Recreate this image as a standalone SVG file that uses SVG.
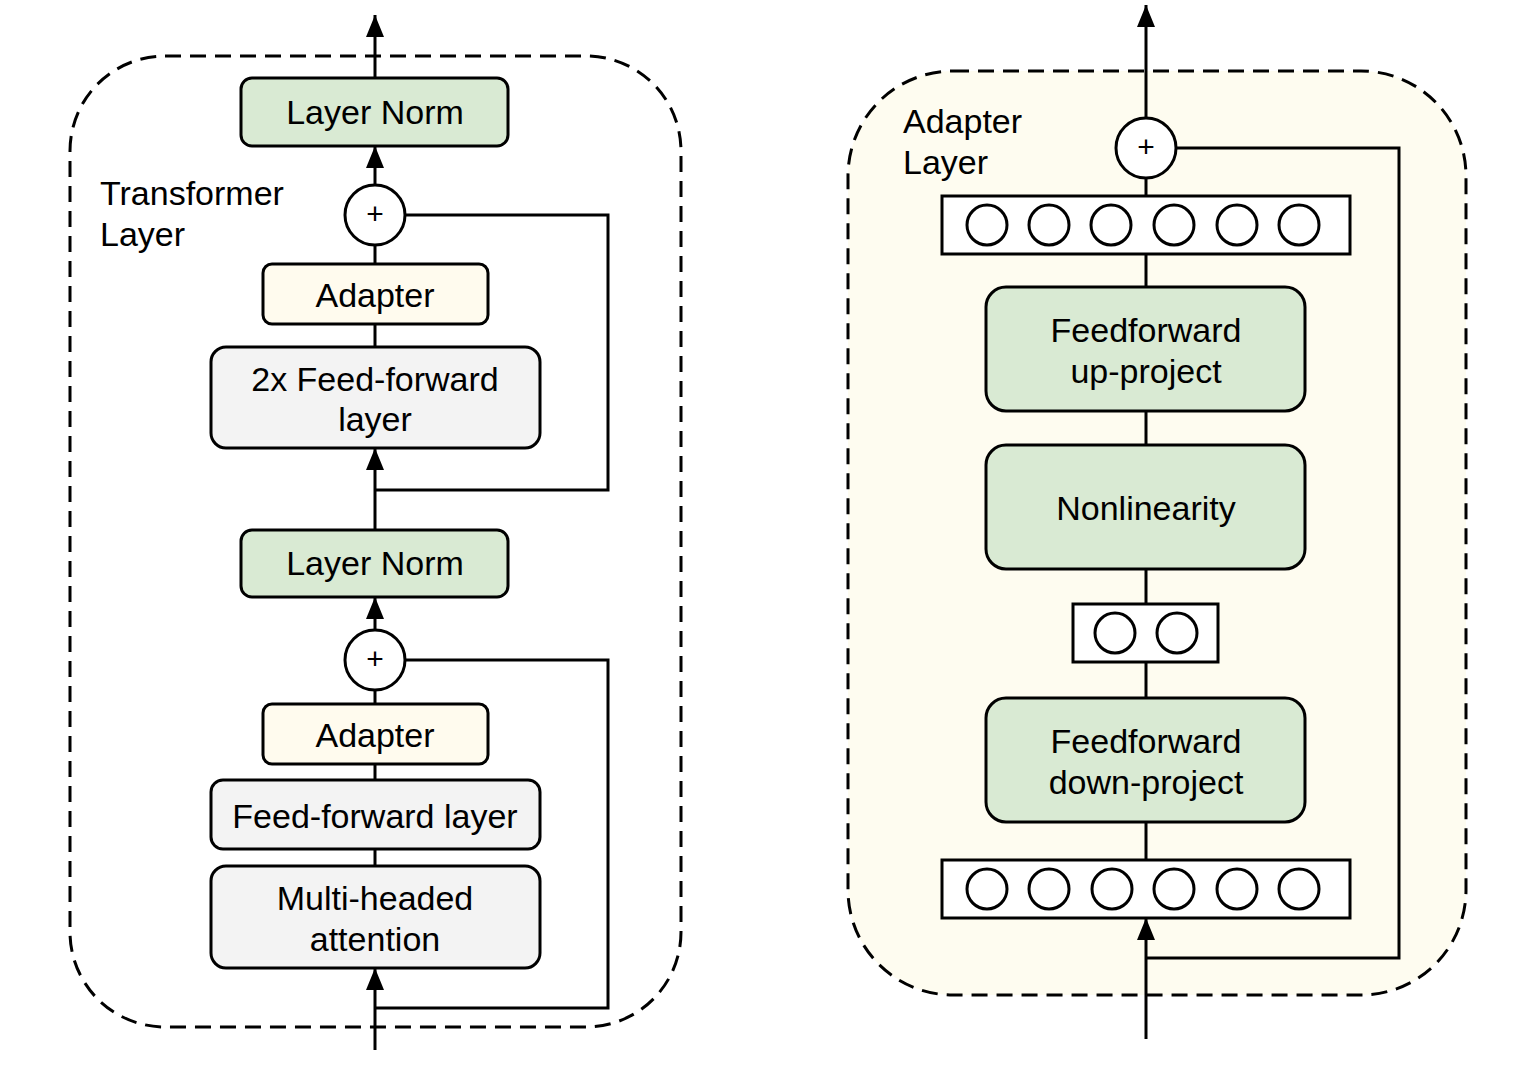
<svg xmlns="http://www.w3.org/2000/svg" width="1534" height="1070" viewBox="0 0 1534 1070">
<defs>
<marker id="arr" markerWidth="22" markerHeight="18" refX="22" refY="9" orient="auto" markerUnits="userSpaceOnUse">
<path d="M0,0 L22,9 L0,18 Z" fill="#000"/>
</marker>
<style>
.t{font-family:"Liberation Sans",Arial,sans-serif;font-size:34px;fill:#000;text-anchor:middle;dominant-baseline:central}
.lbl{font-family:"Liberation Sans",Arial,sans-serif;font-size:34px;fill:#000}
.green{fill:#d9ead3;stroke:#000;stroke-width:3}
.yellow{fill:#fffbee;stroke:#000;stroke-width:3}
.gray{fill:#f3f3f3;stroke:#000;stroke-width:3}
.white{fill:#fff;stroke:#000;stroke-width:3}
.ln{fill:none;stroke:#000;stroke-width:3}
.dash{stroke:#000;stroke-width:3;stroke-dasharray:16 9}
.plus{font-family:"Liberation Sans",Arial,sans-serif;font-size:30px;fill:#000;text-anchor:middle;dominant-baseline:central}
</style>
</defs>
<rect width="1534" height="1070" fill="#fff"/>
<!-- containers -->
<g id="transformer-layer">
<rect x="70" y="56" width="611" height="971" rx="95" fill="none" class="dash"/>
<text class="lbl" x="100" y="205">Transformer</text>
<text class="lbl" x="100" y="246">Layer</text>
</g>
<g id="adapter-layer">
<rect x="848" y="71" width="618" height="924" rx="105" fill="#fefcf0" class="dash"/>
<text class="lbl" x="903" y="133">Adapter</text>
<text class="lbl" x="903" y="174">Layer</text>
</g>
<!-- connectors -->
<g id="connectors">
<line class="ln" x1="375" y1="78" x2="375" y2="15" marker-end="url(#arr)"/>
<line class="ln" x1="375" y1="186" x2="375" y2="146" marker-end="url(#arr)"/>
<line class="ln" x1="375" y1="264" x2="375" y2="245"/>
<line class="ln" x1="375" y1="347" x2="375" y2="324"/>
<line class="ln" x1="375" y1="530" x2="375" y2="448" marker-end="url(#arr)"/>
<polyline class="ln" points="405,215 608,215 608,490 375,490"/>
<line class="ln" x1="375" y1="630" x2="375" y2="597" marker-end="url(#arr)"/>
<line class="ln" x1="375" y1="704" x2="375" y2="690"/>
<line class="ln" x1="375" y1="780" x2="375" y2="764"/>
<line class="ln" x1="375" y1="866" x2="375" y2="849"/>
<line class="ln" x1="375" y1="1050" x2="375" y2="968" marker-end="url(#arr)"/>
<polyline class="ln" points="405,660 608,660 608,1008 375,1008"/>
<line class="ln" x1="1146" y1="118" x2="1146" y2="5" marker-end="url(#arr)"/>
<line class="ln" x1="1146" y1="196" x2="1146" y2="178"/>
<line class="ln" x1="1146" y1="287" x2="1146" y2="254"/>
<line class="ln" x1="1146" y1="445" x2="1146" y2="411"/>
<line class="ln" x1="1146" y1="604" x2="1146" y2="569"/>
<line class="ln" x1="1146" y1="698" x2="1146" y2="662"/>
<line class="ln" x1="1146" y1="860" x2="1146" y2="822"/>
<line class="ln" x1="1146" y1="1039" x2="1146" y2="918" marker-end="url(#arr)"/>
<polyline class="ln" points="1176,148 1399,148 1399,958 1146,958"/>
</g>
<!-- left nodes -->
<g id="ln-top"><rect class="green" x="241" y="78" width="267" height="68" rx="11"/><text class="t" x="375" y="112">Layer Norm</text></g>
<g id="add-top"><circle class="white" cx="375" cy="215" r="30"/><text class="plus" x="375" y="213">+</text></g>
<g id="adapter-top"><rect class="yellow" x="263" y="264" width="225" height="60" rx="9"/><text class="t" x="375" y="295">Adapter</text></g>
<g id="ff2x"><rect class="gray" x="211" y="347" width="329" height="101" rx="15"/><text class="t" x="375" y="379">2x Feed-forward</text><text class="t" x="375" y="419">layer</text></g>
<g id="ln-bottom"><rect class="green" x="241" y="530" width="267" height="67" rx="11"/><text class="t" x="375" y="563">Layer Norm</text></g>
<g id="add-bottom"><circle class="white" cx="375" cy="660" r="30"/><text class="plus" x="375" y="658">+</text></g>
<g id="adapter-bottom"><rect class="yellow" x="263" y="704" width="225" height="60" rx="9"/><text class="t" x="375" y="735">Adapter</text></g>
<g id="ff"><rect class="gray" x="211" y="780" width="329" height="69" rx="12"/><text class="t" x="375" y="816">Feed-forward layer</text></g>
<g id="mha"><rect class="gray" x="211" y="866" width="329" height="102" rx="15"/><text class="t" x="375" y="898">Multi-headed</text><text class="t" x="375" y="939">attention</text></g>
<!-- right nodes -->
<g id="add-adapter"><circle class="white" cx="1146" cy="148" r="30"/><text class="plus" x="1146" y="146">+</text></g>
<g id="out-vec"><rect class="white" x="942" y="196" width="408" height="58"/>
<g class="white"><ellipse cx="987" cy="225" rx="20" ry="20"/><ellipse cx="1049" cy="225" rx="20" ry="20"/><ellipse cx="1111" cy="225" rx="20" ry="20"/><ellipse cx="1174" cy="225" rx="20" ry="20"/><ellipse cx="1237" cy="225" rx="20" ry="20"/><ellipse cx="1299" cy="225" rx="20" ry="20"/></g></g>
<g id="ff-up"><rect class="green" x="986" y="287" width="319" height="124" rx="20"/><text class="t" x="1146" y="330">Feedforward</text><text class="t" x="1146" y="371">up-project</text></g>
<g id="nonlin"><rect class="green" x="986" y="445" width="319" height="124" rx="20"/><text class="t" x="1146" y="508">Nonlinearity</text></g>
<g id="mid-vec"><rect class="white" x="1073" y="604" width="145" height="58"/>
<g class="white"><ellipse cx="1115" cy="633" rx="20" ry="20"/><ellipse cx="1177" cy="633" rx="20" ry="20"/></g></g>
<g id="ff-down"><rect class="green" x="986" y="698" width="319" height="124" rx="20"/><text class="t" x="1146" y="741">Feedforward</text><text class="t" x="1146" y="782">down-project</text></g>
<g id="in-vec"><rect class="white" x="942" y="860" width="408" height="58"/>
<g class="white"><ellipse cx="987" cy="889" rx="20" ry="20"/><ellipse cx="1049" cy="889" rx="20" ry="20"/><ellipse cx="1112" cy="889" rx="20" ry="20"/><ellipse cx="1174" cy="889" rx="20" ry="20"/><ellipse cx="1237" cy="889" rx="20" ry="20"/><ellipse cx="1299" cy="889" rx="20" ry="20"/></g></g>
</svg>
